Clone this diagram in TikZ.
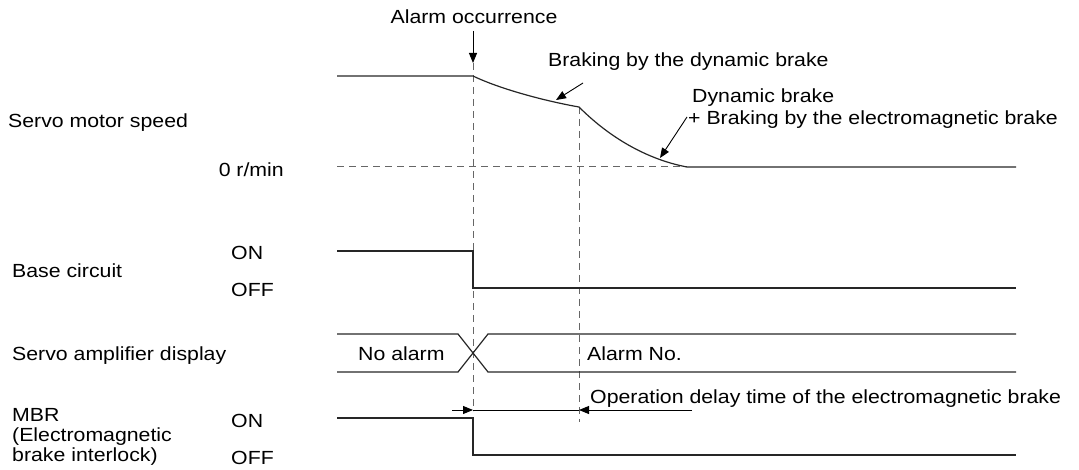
\documentclass[tikz,border=0pt]{standalone}
\usepackage{fontspec}
\setmainfont[FakeStretch=1.12]{Liberation Sans}
\usetikzlibrary{arrows.meta}
\begin{document}
\begin{tikzpicture}[x=1pt,y=-1pt,
  lbl/.style={inner sep=0pt,font=\fontsize{19}{20}\selectfont},
  sig/.style={line width=1.2pt,black!85},
  guide/.style={line width=1pt,black!60,dash pattern=on 7pt off 5pt},
  arr/.style={line width=0.9pt,-{Triangle[length=10pt,width=8pt]}},
  thin/.style={line width=0.9pt}]
\useasboundingbox (0,0) rectangle (1079,470);
% labels left
\node[lbl,anchor=base west] (lspeed) at (8,128) {Servo motor speed};
\node[lbl,anchor=base east] (lzero) at (284,177) {0 r/min};
\node[lbl,anchor=base west] (lbase) at (12,278) {Base circuit};
\node[lbl,anchor=base west] (bon) at (231,260) {ON};
\node[lbl,anchor=base west] (boff) at (231,297) {OFF};
\node[lbl,anchor=base west] (ldisp) at (12,360) {Servo amplifier display};
\node[lbl,anchor=north west,align=left] (lmbr) at (12,408) {MBR\\(Electromagnetic\\brake interlock)};
\node[lbl,anchor=base west] (mon) at (231,427) {ON};
\node[lbl,anchor=base west] (moff) at (231,464) {OFF};
% annotations
\node[lbl,anchor=base] (alarm) at (474,24) {Alarm occurrence};
\node[lbl,anchor=base west] (dyn) at (548,67) {Braking by the dynamic brake};
\node[lbl,anchor=base west] (dynb) at (692,103) {Dynamic brake};
\node[lbl,anchor=base west] (dynem) at (688,125) {+ Braking by the electromagnetic brake};
\node[lbl,anchor=base west] (noal) at (358,360) {No alarm};
\node[lbl,anchor=base west] (aln) at (587,360) {Alarm No.};
\node[lbl,anchor=base west] (delay) at (590,403) {Operation delay time of the electromagnetic brake};
% coordinates
\coordinate (aS) at (473,31);
\coordinate (aT) at (473,63);
\coordinate (s0) at (337,76);
\coordinate (s1) at (473,76);
\coordinate (s2) at (579,107);
\coordinate (s3) at (687,167);
\coordinate (s4) at (1016,167);
\coordinate (z0) at (337,167);
\coordinate (v1b) at (473,411);
\coordinate (v2b) at (579,422);
% guides
\draw[guide] (z0) -- (s3);
\draw[guide] (aT) -- (v1b);
\draw[guide] (s2) -- (v2b);
% alarm arrow
\draw[arr] (aS) -- (aT);
% speed
\draw[sig] (s0) -- (s1) .. controls (500,89) and (545,101) .. (s2)
  .. controls (612,140) and (650,160) .. (s3) -- (s4);
\coordinate (d1a) at (583,83); \coordinate (d1b) at (556,100);
\draw[arr] (d1a) -- (d1b);
\coordinate (d2a) at (687,117); \coordinate (d2b) at (660,158);
\draw[arr] (d2a) -- (d2b);
% base circuit
\coordinate (b0) at (337,251); \coordinate (b1) at (473,251);
\coordinate (b2) at (473,288); \coordinate (b3) at (1016,288);
\draw[sig] (b0) -- (b1) -- (b2) -- (b3);
% display
\coordinate (p0) at (337,334); \coordinate (p1) at (458,334);
\coordinate (p2) at (488,334); \coordinate (p3) at (1016,334);
\coordinate (q0) at (337,372); \coordinate (q1) at (458,372);
\coordinate (q2) at (488,372); \coordinate (q3) at (1016,372);
\draw[sig] (p0) -- (p1) -- (q2) -- (q3);
\draw[sig] (q0) -- (q1) -- (p2) -- (p3);
% MBR
\coordinate (m0) at (337,418); \coordinate (m1) at (473,418);
\coordinate (m2) at (473,455); \coordinate (m3) at (1016,455);
\draw[sig] (m0) -- (m1) -- (m2) -- (m3);
% delay arrows
\coordinate (e0) at (452,410); \coordinate (e1) at (473,410);
\coordinate (e2) at (579,410); \coordinate (e3) at (692,410);
\draw[arr] (e0) -- (e1);
\draw[thin] (e1) -- (e2);
\draw[arr] (e3) -- (e2);
\end{tikzpicture}
\end{document}
